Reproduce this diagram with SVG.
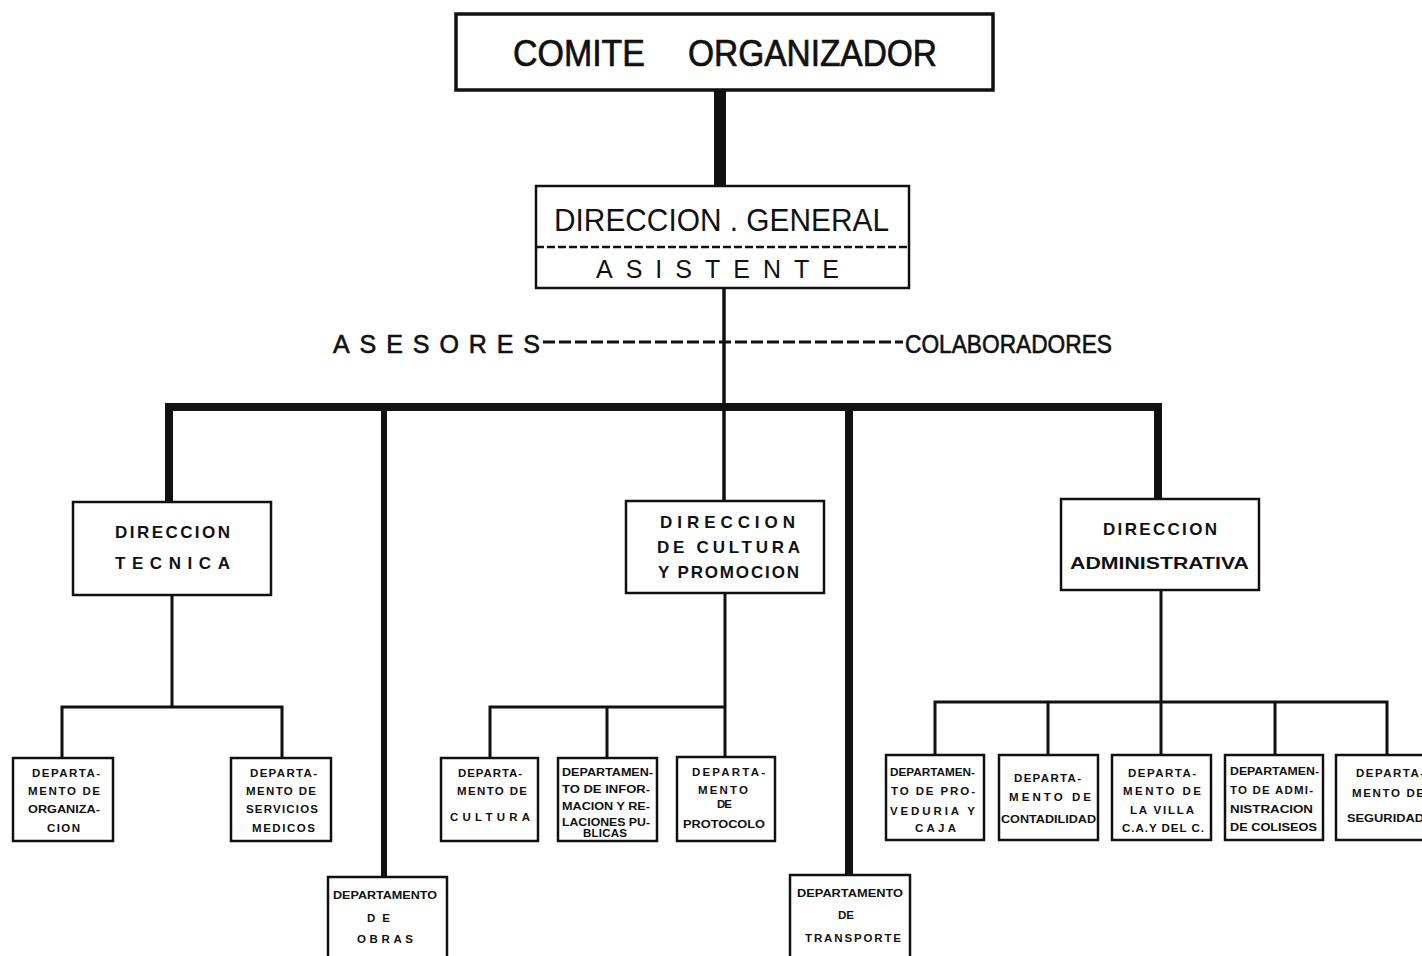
<svg xmlns="http://www.w3.org/2000/svg" width="1422" height="956" viewBox="0 0 1422 956">
<style>
.box{fill:#fff;stroke:#111;stroke-width:2.5}
.big{fill:#fff;stroke:#111;stroke-width:3.5}
.t{font-family:"Liberation Sans",Arial,sans-serif;fill:#111}
.hd{font-size:37px;stroke:#111;stroke-width:0.7}
.dg{font-size:31px}
.side{font-size:25px;stroke:#111;stroke-width:0.6}
.dir{font-size:17px;font-weight:bold}
.sm{font-size:11.5px;font-weight:bold}
.ln{stroke:#111;fill:none}
</style>
<rect width="1422" height="956" fill="#fff"/>
<g id="connectors">
  <line class="ln" x1="720" y1="90" x2="720" y2="186" stroke-width="12"/>
  <line class="ln" x1="724" y1="288" x2="724" y2="501" stroke-width="3.5"/>
  <line class="ln" x1="543" y1="342" x2="903" y2="342" stroke-width="3" stroke-dasharray="12 4"/>
  <path class="ln" d="M169 501 V407 H1158 V499" stroke-width="8"/>
  <line class="ln" x1="384" y1="407" x2="384" y2="877" stroke-width="6"/>
  <line class="ln" x1="849" y1="407" x2="849" y2="875" stroke-width="8"/>
  <line class="ln" x1="172" y1="595" x2="172" y2="707" stroke-width="3"/>
  <path class="ln" d="M62 758 V707 H282 V758" stroke-width="3"/>
  <line class="ln" x1="725" y1="593" x2="725" y2="758" stroke-width="3"/>
  <path class="ln" d="M490 758 V707 H725" stroke-width="3"/>
  <line class="ln" x1="607" y1="707" x2="607" y2="758" stroke-width="3"/>
  <line class="ln" x1="1161" y1="590" x2="1161" y2="755" stroke-width="3"/>
  <path class="ln" d="M935 755 V702 H1387 V755" stroke-width="3"/>
  <line class="ln" x1="1048" y1="702" x2="1048" y2="755" stroke-width="3"/>
  <line class="ln" x1="1275" y1="702" x2="1275" y2="755" stroke-width="3"/>
</g>
<g id="comite">
  <rect class="big" x="456" y="14" width="537" height="76"/>
  <text class="t hd" x="513" y="66" textLength="132" lengthAdjust="spacingAndGlyphs">COMITE</text>
  <text class="t hd" x="688" y="66" textLength="249" lengthAdjust="spacingAndGlyphs">ORGANIZADOR</text>
</g>
<g id="direccion-general">
  <rect class="box" x="536" y="186" width="373" height="102"/>
  <line class="ln" x1="536" y1="247" x2="909" y2="247" stroke-width="2.5" stroke-dasharray="8 3"/>
  <text class="t dg" x="554" y="231" textLength="335" lengthAdjust="spacingAndGlyphs">DIRECCION . GENERAL</text>
  <text class="t" x="596" y="278" font-size="25" textLength="243" lengthAdjust="spacing">ASISTENTE</text>
</g>
<g id="asesores">
  <text class="t side" x="333" y="353" textLength="207" lengthAdjust="spacing">ASESORES</text>
</g>
<g id="colaboradores">
  <text class="t side" x="905" y="353" textLength="207" lengthAdjust="spacingAndGlyphs">COLABORADORES</text>
</g>
<g id="dir-tecnica">
  <rect class="box" x="73" y="502" width="198" height="93"/>
  <text class="t dir" x="115" y="538" textLength="115" lengthAdjust="spacing">DIRECCION</text>
  <text class="t dir" x="115" y="569" textLength="115" lengthAdjust="spacing">TECNICA</text>
</g>
<g id="dir-cultura">
  <rect class="box" x="626" y="501" width="198" height="92"/>
  <text class="t dir" x="660" y="528" textLength="135" lengthAdjust="spacing">DIRECCION</text>
  <text class="t dir" x="657" y="553" textLength="143" lengthAdjust="spacing">DE CULTURA</text>
  <text class="t dir" x="658" y="578" textLength="141" lengthAdjust="spacing">Y PROMOCION</text>
</g>
<g id="dir-administrativa">
  <rect class="box" x="1061" y="499" width="198" height="91"/>
  <text class="t dir" x="1103" y="535" textLength="114" lengthAdjust="spacing">DIRECCION</text>
  <text class="t dir" x="1070" y="569" textLength="179" lengthAdjust="spacingAndGlyphs">ADMINISTRATIVA</text>
</g>
<g id="dep-organizacion">
  <rect class="box" x="13" y="758" width="100" height="83"/>
  <text class="t sm" x="32" y="777" textLength="68" lengthAdjust="spacing">DEPARTA-</text>
  <text class="t sm" x="28" y="795" textLength="72" lengthAdjust="spacing">MENTO DE</text>
  <text class="t sm" x="28" y="813" textLength="72" lengthAdjust="spacingAndGlyphs">ORGANIZA-</text>
  <text class="t sm" x="47" y="832" textLength="33" lengthAdjust="spacing">CION</text>
</g>
<g id="dep-servicios">
  <rect class="box" x="231" y="758" width="100" height="83"/>
  <text class="t sm" x="250" y="777" textLength="67" lengthAdjust="spacing">DEPARTA-</text>
  <text class="t sm" x="246" y="795" textLength="70" lengthAdjust="spacing">MENTO DE</text>
  <text class="t sm" x="246" y="813" textLength="72" lengthAdjust="spacing">SERVICIOS</text>
  <text class="t sm" x="252" y="832" textLength="63" lengthAdjust="spacing">MEDICOS</text>
</g>
<g id="dep-obras">
  <rect class="box" x="328" y="877" width="119" height="90"/>
  <text class="t sm" x="333" y="899" textLength="104" lengthAdjust="spacingAndGlyphs">DEPARTAMENTO</text>
  <text class="t sm" x="367" y="922" textLength="23" lengthAdjust="spacing">DE</text>
  <text class="t sm" x="357" y="943" textLength="56" lengthAdjust="spacing">OBRAS</text>
</g>
<g id="dep-cultura">
  <rect class="box" x="441" y="758" width="97" height="83"/>
  <text class="t sm" x="458" y="777" textLength="64" lengthAdjust="spacing">DEPARTA-</text>
  <text class="t sm" x="457" y="795" textLength="70" lengthAdjust="spacing">MENTO DE</text>
  <text class="t sm" x="450" y="821" textLength="80" lengthAdjust="spacing">CULTURA</text>
</g>
<g id="dep-informacion">
  <rect class="box" x="558" y="758" width="99" height="83"/>
  <text class="t sm" x="562" y="776" textLength="91" lengthAdjust="spacingAndGlyphs">DEPARTAMEN-</text>
  <text class="t sm" x="562" y="793" textLength="88" lengthAdjust="spacingAndGlyphs">TO DE INFOR-</text>
  <text class="t sm" x="562" y="810" textLength="88" lengthAdjust="spacingAndGlyphs">MACION Y RE-</text>
  <text class="t sm" x="562" y="826" textLength="88" lengthAdjust="spacingAndGlyphs">LACIONES PU-</text>
  <text class="t sm" x="583" y="837" textLength="44" lengthAdjust="spacing">BLICAS</text>
</g>
<g id="dep-protocolo">
  <rect class="box" x="677" y="757" width="98" height="84"/>
  <text class="t sm" x="692" y="776" textLength="73" lengthAdjust="spacing">DEPARTA-</text>
  <text class="t sm" x="698" y="794" textLength="50" lengthAdjust="spacing">MENTO</text>
  <text class="t sm" x="717" y="808" textLength="15" lengthAdjust="spacing">DE</text>
  <text class="t sm" x="683" y="828" textLength="82" lengthAdjust="spacingAndGlyphs">PROTOCOLO</text>
</g>
<g id="dep-transporte">
  <rect class="box" x="790" y="875" width="120" height="92"/>
  <text class="t sm" x="797" y="897" textLength="106" lengthAdjust="spacingAndGlyphs">DEPARTAMENTO</text>
  <text class="t sm" x="838" y="919" textLength="16" lengthAdjust="spacing">DE</text>
  <text class="t sm" x="805" y="942" textLength="96" lengthAdjust="spacing">TRANSPORTE</text>
</g>
<g id="dep-proveduria">
  <rect class="box" x="886" y="755" width="98" height="85"/>
  <text class="t sm" x="890" y="776" textLength="85" lengthAdjust="spacingAndGlyphs">DEPARTAMEN-</text>
  <text class="t sm" x="891" y="795" textLength="84" lengthAdjust="spacing">TO DE PRO-</text>
  <text class="t sm" x="890" y="815" textLength="85" lengthAdjust="spacing">VEDURIA Y</text>
  <text class="t sm" x="915" y="832" textLength="41" lengthAdjust="spacing">CAJA</text>
</g>
<g id="dep-contadilidad">
  <rect class="box" x="999" y="755" width="99" height="85"/>
  <text class="t sm" x="1014" y="782" textLength="67" lengthAdjust="spacing">DEPARTA-</text>
  <text class="t sm" x="1009" y="801" textLength="82" lengthAdjust="spacing">MENTO DE</text>
  <text class="t sm" x="1001" y="823" textLength="95" lengthAdjust="spacingAndGlyphs">CONTADILIDAD</text>
</g>
<g id="dep-villa">
  <rect class="box" x="1112" y="755" width="99" height="85"/>
  <text class="t sm" x="1128" y="777" textLength="68" lengthAdjust="spacing">DEPARTA-</text>
  <text class="t sm" x="1123" y="795" textLength="78" lengthAdjust="spacing">MENTO DE</text>
  <text class="t sm" x="1130" y="814" textLength="64" lengthAdjust="spacing">LA VILLA</text>
  <text class="t sm" x="1122" y="832" textLength="82" lengthAdjust="spacing">C.A.Y DEL C.</text>
</g>
<g id="dep-coliseos">
  <rect class="box" x="1225" y="755" width="98" height="85"/>
  <text class="t sm" x="1230" y="775" textLength="89" lengthAdjust="spacingAndGlyphs">DEPARTAMEN-</text>
  <text class="t sm" x="1230" y="794" textLength="83" lengthAdjust="spacing">TO DE ADMI-</text>
  <text class="t sm" x="1230" y="813" textLength="83" lengthAdjust="spacingAndGlyphs">NISTRACION</text>
  <text class="t sm" x="1230" y="831" textLength="87" lengthAdjust="spacingAndGlyphs">DE COLISEOS</text>
</g>
<g id="dep-seguridad">
  <rect class="box" x="1336" y="755" width="100" height="85"/>
  <text class="t sm" x="1356" y="777" textLength="68" lengthAdjust="spacing">DEPARTA-</text>
  <text class="t sm" x="1352" y="797" textLength="72" lengthAdjust="spacing">MENTO DE</text>
  <text class="t sm" x="1347" y="822" textLength="77" lengthAdjust="spacingAndGlyphs">SEGURIDAD</text>
</g>
</svg>
